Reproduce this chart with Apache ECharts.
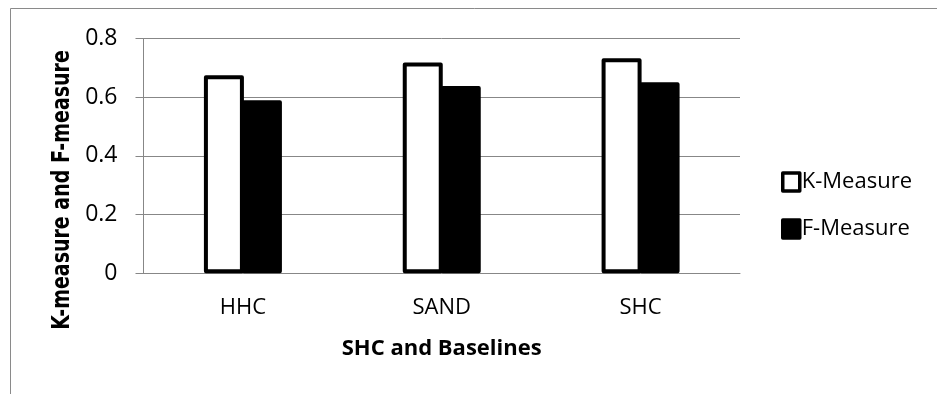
<!DOCTYPE html>
<html>
<head>
<meta charset="utf-8">
<script src="https://cdn.jsdelivr.net/npm/echarts@6/dist/echarts.min.js"></script>
<style>
html,body{margin:0;padding:0;background:#fff;}
#chart{width:937px;height:394px;}
</style>
</head>
<body>
<div id="chart"></div>
<script>
var categories = ['HHC', 'SAND', 'SHC'];
var kMeasure = [0.675, 0.718, 0.733];
var fMeasure = [0.590, 0.638, 0.651];
var yTicks = [0, 0.2, 0.4, 0.6, 0.8];
var xTitle = 'SHC and Baselines';
var yTitle = 'K-measure and F-measure';
var seriesNames = ['K-Measure', 'F-Measure'];

var chart = echarts.init(document.getElementById('chart'), null, {renderer: 'canvas'});
var FONT = '"Open Sans", sans-serif';
var option = {
  animation: false,
  backgroundColor: '#ffffff',
  grid: {left: 143.5, right: 197, top: 38.5, bottom: 120.7},
  legend: {
    orient: 'vertical',
    left: 776,
    top: 166,
    itemWidth: 17,
    itemHeight: 18,
    itemGap: 25,
    icon: 'rect',
    textStyle: {fontFamily: FONT, fontSize: 22, color: '#000', padding: [0, 0, 0, -3]},
    data: [
      {name: seriesNames[0], itemStyle: {color: '#fff', borderColor: '#000', borderWidth: 3.5}},
      {name: seriesNames[1], itemStyle: {color: '#000', borderColor: '#000', borderWidth: 3.5}}
    ]
  },
  xAxis: {
    type: 'category',
    data: categories,
    axisLine: {show: true, lineStyle: {color: '#878787', width: 1}},
    axisTick: {show: false},
    axisLabel: {fontFamily: FONT, fontSize: 22, color: '#000', margin: 23}
  },
  yAxis: {
    type: 'value',
    min: 0,
    max: 0.8,
    interval: 0.2,
    axisLine: {show: true, lineStyle: {color: '#878787', width: 1}},
    axisTick: {show: true, length: 8, lineStyle: {color: '#878787'}},
    splitLine: {show: true, lineStyle: {color: '#878787', width: 1}},
    axisLabel: {
      fontFamily: FONT, fontSize: 23, color: '#000', margin: 26,
      formatter: function (v) {
        for (var i = 0; i < yTicks.length; i++) {
          if (Math.abs(yTicks[i] - v) < 1e-9) return String(yTicks[i]);
        }
        return '';
      }
    }
  },
  series: [
    {
      name: seriesNames[0], type: 'bar', data: kMeasure,
      barWidth: 40, barGap: '-5%',
      itemStyle: {color: '#ffffff', borderColor: '#000', borderWidth: 4, borderJoin: 'round'}
    },
    {
      name: seriesNames[1], type: 'bar', data: fMeasure,
      barWidth: 40, barGap: '-5%',
      itemStyle: {color: '#000000', borderColor: '#000', borderWidth: 4, borderJoin: 'round'}
    }
  ],
  graphic: [
    {
      type: 'rect', silent: true, z: -1,
      shape: {x: 10.5, y: 8.5, width: 1000, height: 600},
      style: {fill: 'none', stroke: '#8a8a8a', lineWidth: 1}
    },
    {
      type: 'text', silent: true,
      x: 441.7, y: 349,
      style: {text: xTitle, font: 'bold 22px "Open Sans", sans-serif', fill: '#000', align: 'center', verticalAlign: 'middle'}
    },
    {
      type: 'text', silent: true,
      x: 63, y: 190, rotation: Math.PI / 2, scaleY: 1.3,
      style: {text: yTitle, font: 'bold 19px "DejaVu Sans", sans-serif', fill: '#000', align: 'center', verticalAlign: 'middle'}
    }
  ]
};
chart.setOption(option);
</script>
</body>
</html>
